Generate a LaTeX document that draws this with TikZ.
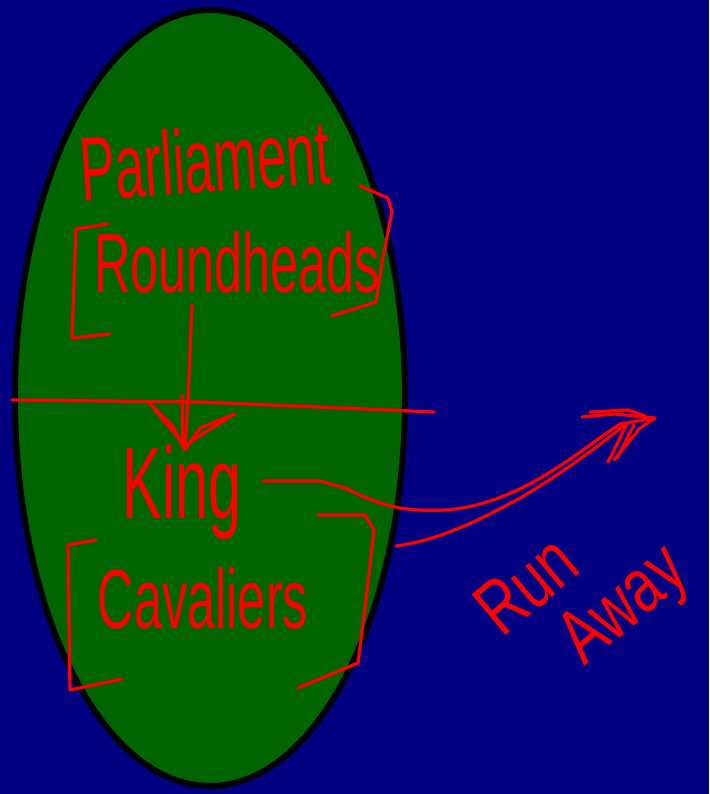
\documentclass[tikz,border=0pt]{standalone}
\usepackage{fontspec}
\usepackage{graphicx}
\setmainfont{Liberation Sans}
\usetikzlibrary{arrows.meta}
\definecolor{bgnavy}{RGB}{0,0,128}
\definecolor{fieldgreen}{RGB}{0,100,0}
\definecolor{inkred}{RGB}{255,0,0}
\tikzset{
  ink/.style={draw=inkred, line width=3.2pt, line cap=round, line join=round},
  label/.style={text=inkred, inner sep=0pt, font=\fontsize{70}{70}\selectfont},
}
\begin{document}
\begin{tikzpicture}[x=1pt,y=-1pt]
\fill[bgnavy] (0,0) rectangle (709,794);
\useasboundingbox (0,0) rectangle (709,794);
% ellipse
\draw[fill=fieldgreen, draw=black, line width=6pt] (210,398) ellipse [x radius=195, y radius=388];
% texts
\node[label, rotate=4] (parl) at (205,160) {\scalebox{0.75}[1.3]{Parliament}};
\node[label] (round) at (237,262) {\scalebox{0.72}[1.2]{Roundheads}};
\node[label] (king) at (182,492) {\scalebox{0.85}[1.45]{King}};
\node[label] (cav) at (203,598) {\scalebox{0.72}[1.2]{Cavaliers}};
\node[label, rotate=40] (run) at (526,585) {\scalebox{0.82}[1.1]{Run}};
\node[label, rotate=40] (away) at (626,608) {\scalebox{0.82}[1.1]{Away}};
% brackets Roundheads
\draw[ink] (108,224) -- (76,229) -- (72,338) -- (110,334);
\draw[ink] (360,186) -- (388,198) -- (392,212) -- (382,262) -- (376,302) -- (332,316);
% brackets Cavaliers
\draw[ink] (96,540) -- (68,545) -- (70,690) -- (122,679);
\draw[ink] (318,515) -- (365,515) -- (374,530) -- (366,600) -- (358,663) -- (298,688);
% dividing line
\coordinate (divL) at (12,400);
\coordinate (divR) at (434,412);
\draw[ink] (divL) -- (200,402) -- (divR);
% arrow Parliament -> King
\coordinate (arrS) at (192,305);
\coordinate (arrE) at (185,450);
\draw[ink] (arrS) -- (188,400) -- (arrE);
\draw[ink] (150,404) -- (172,425) -- (arrE) -- (200,428) -- (235,414);
\draw[ink] (155,410) -- (180,440);
\draw[ink] (228,418) -- (190,442);
\draw[ink] (182,395) -- (183,445);
% run away curves
\coordinate (kingE) at (263,481);
\coordinate (tip) at (655,418);
\draw[ink] (kingE) -- (320,481) -- (345,488) .. controls (380,505) and (400,512) .. (445,510)
  .. controls (520,505) and (580,450) .. (620,424) -- (tip);
\coordinate (cavE) at (396,546);
\draw[ink] (cavE) .. controls (440,540) and (480,520) .. (520,498)
  .. controls (560,475) and (600,445) .. (627,423);
% arrowhead strokes
\draw[ink] (582,417) -- (615,414) -- (tip) -- (640,428) -- (614,460);
\draw[ink] (608,462) -- (628,422);
\draw[ink] (617,458) -- (634,425);
\draw[ink] (590,412) -- (628,410) -- (645,416);
\end{tikzpicture}
\end{document}
